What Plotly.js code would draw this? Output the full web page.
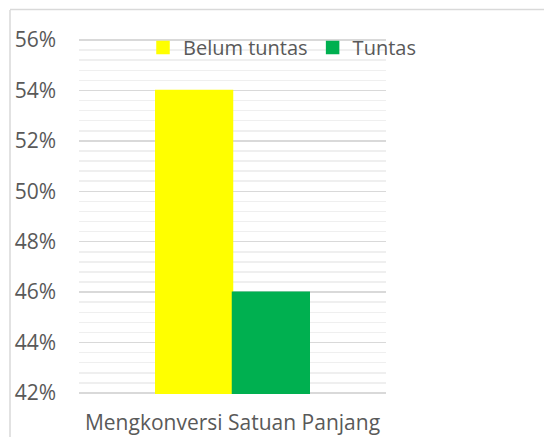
<!DOCTYPE html>
<html>
<head>
<meta charset="utf-8">
<script src="https://cdn.plot.ly/plotly-3.0.1.min.js"></script>
<style>html,body{margin:0;padding:0;background:#fff;}#chart{width:544px;height:437px;}</style>
</head>
<body>
<div id="chart"></div>
<script>
const categories = ["Mengkonversi Satuan Panjang"];
const seriesNames = ["Belum tuntas", "Tuntas"];
const belumTuntas = [0.54];
const tuntas = [0.46];
const seriesColors = ["#FFFF00", "#00B050"];
const yTickVals = [0.42, 0.44, 0.46, 0.48, 0.50, 0.52, 0.54, 0.56];

const W = 544, H = 437;
const m = {l: 79, r: 158, t: 39, b: 43};
const pw = W - m.l - m.r, ph = H - m.t - m.b;
const px = x => (x - m.l) / pw;
const py = y => 1 - (y - m.t) / ph;

const data = [
  {type: 'bar', name: seriesNames[0], x: categories, y: belumTuntas, marker: {color: seriesColors[0], line: {color: seriesColors[0], width: 1.5}}},
  {type: 'bar', name: seriesNames[1], x: categories, y: tuntas, marker: {color: seriesColors[1], line: {color: seriesColors[1], width: 1.5}}}
];

const font = {family: '"Open Sans", "Noto Sans", sans-serif', size: 21, color: '#595959'};
const legFont = {family: '"Open Sans", "Noto Sans", sans-serif', size: 20, color: '#595959'};

const layout = {
  width: W, height: H,
  margin: m,
  paper_bgcolor: '#fff', plot_bgcolor: '#fff',
  font: font,
  barmode: 'group',
  bargap: 0.5,
  bargroupgap: 0,
  showlegend: true,
  legend: {
    orientation: 'h', x: px(143), y: py(28), xanchor: 'left', yanchor: 'top',
    bgcolor: 'rgba(0,0,0,0)', font: legFont, itemwidth: 30, itemclick: false,
    tracegroupgap: 0
  },
  xaxis: {
    type: 'category', showgrid: false, zeroline: false, showline: false,
    ticks: '', ticklabelstandoff: 14, tickfont: font
  },
  yaxis: {
    range: [0.4196, 0.5604], tickvals: yTickVals, tickformat: '.0%',
    showgrid: true, gridcolor: '#d9d9d9', gridwidth: 1.5,
    minor: {dtick: 0.004, tick0: 0.42, showgrid: true, gridcolor: '#efefef', gridwidth: 1.5, ticks: ''},
    zeroline: false, showline: false, ticks: '', ticklabelstandoff: 22, tickfont: font
  },
  shapes: [
    {type: 'line', xref: 'paper', yref: 'paper', x0: px(10), x1: px(10), y0: py(10), y1: py(437), line: {color: '#d9d9d9', width: 1.5}},
    {type: 'line', xref: 'paper', yref: 'paper', x0: px(10), x1: px(544), y0: py(9.5), y1: py(9.5), line: {color: '#d9d9d9', width: 1.5}}
  ]
};

Plotly.newPlot('chart', data, layout, {staticPlot: true, displayModeBar: false});
</script>
</body>
</html>
